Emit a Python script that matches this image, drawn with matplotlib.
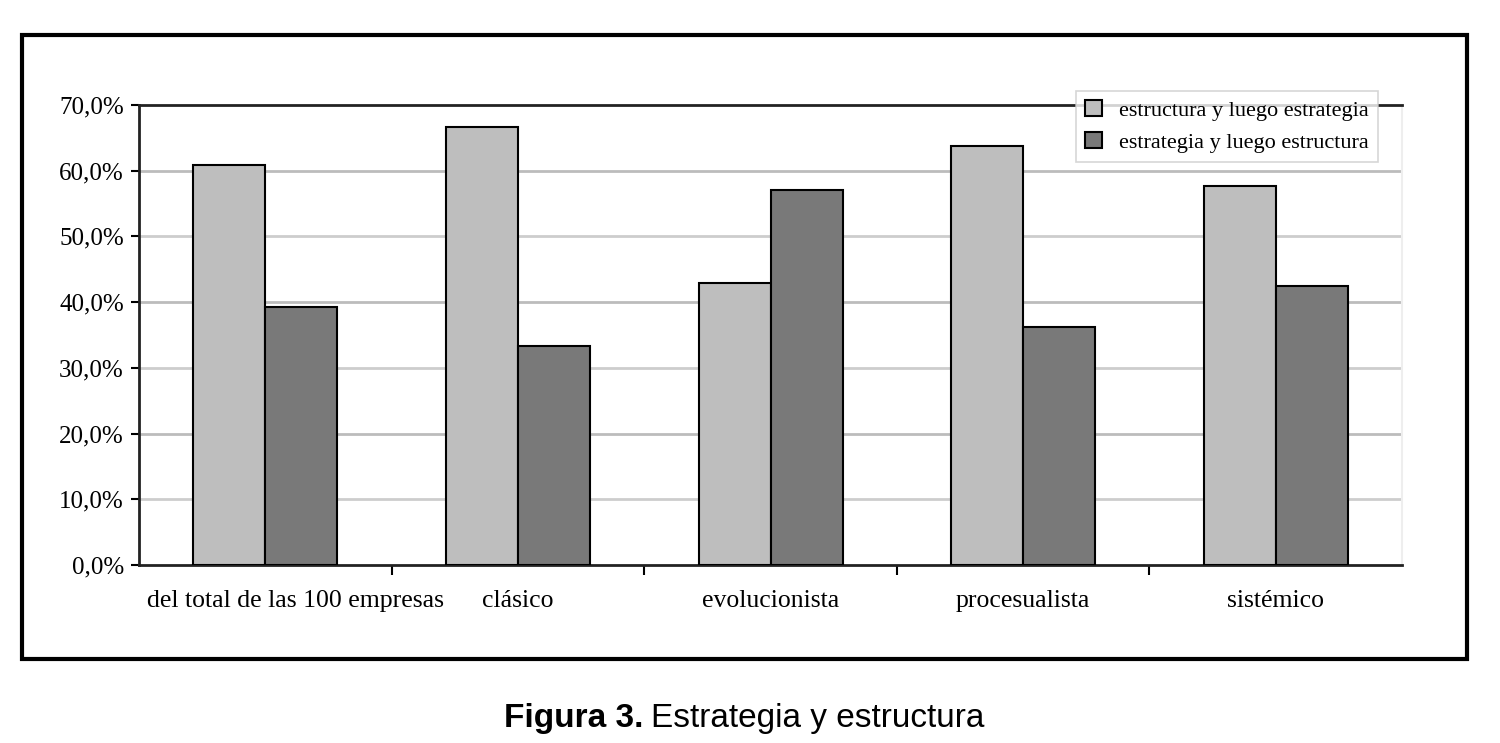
import matplotlib.pyplot as plt
import matplotlib.transforms as mtransforms
from matplotlib.patches import Rectangle
import numpy as np

# data
categorias = ['del total de las 100 empresas', 'clásico', 'evolucionista',
              'procesualista', 'sistémico']
estructura_luego_estrategia = [60.8, 66.7, 42.9, 63.8, 57.6]
estrategia_luego_estructura = [39.2, 33.3, 57.1, 36.2, 42.4]
series_labels = ['estructura y luego estrategia', 'estrategia y luego estructura']
yticks = [0, 10, 20, 30, 40, 50, 60, 70]

plt.rcParams['font.family'] = ['Liberation Serif', 'DejaVu Serif']

fig = plt.figure(figsize=(15, 7.43), dpi=100)
ax = fig.add_axes([0.0927, 0.2396, 0.842, 0.6191])

x = np.arange(len(categorias))
w = 0.285
ax.bar(x - w / 2, estructura_luego_estrategia, w, color='#bebebe',
       edgecolor='black', linewidth=1.5, label=series_labels[0], zorder=3)
ax.bar(x + w / 2, estrategia_luego_estructura, w, color='#797979',
       edgecolor='black', linewidth=1.5, label=series_labels[1], zorder=3)

ax.set_xlim(-0.5, len(categorias) - 0.5)
ax.set_ylim(0, 70)
ax.set_yticks(yticks)
ax.set_yticklabels([f'{v:.1f}%'.replace('.', ',') for v in yticks], fontsize=18)
ax.set_xticks(x)
ax.set_xticklabels(categorias, fontsize=18.5)
ax.set_xticks(np.arange(0.5, len(categorias) - 1, 1), minor=True)
ax.tick_params(axis='x', which='major', length=0, pad=18)
ax.tick_params(axis='x', which='minor', length=7, width=1.5, direction='out')
ax.tick_params(axis='y', length=6, width=1.5, pad=5)

# first label sits a bit to the right in the original
first = ax.get_xticklabels()[0]
first.set_transform(first.get_transform() +
                    mtransforms.ScaledTranslation(0.3, 0, fig.dpi_scale_trans))

for i, v in enumerate(yticks[1:-1]):
    ax.axhline(v, color='#cdcdcd' if i % 2 == 0 else '#bcbcbc',
               linewidth=2, zorder=1)

for side in ['left', 'bottom', 'top']:
    ax.spines[side].set_linewidth(2)
    ax.spines[side].set_color('#222222')
ax.spines['right'].set_color('#eeeeee')
ax.spines['right'].set_linewidth(1.5)

leg = ax.legend(loc='upper right', bbox_to_anchor=(0.981, 1.0304), fontsize=16,
                frameon=True, fancybox=False, edgecolor='#cccccc',
                handlelength=0.75, handleheight=0.75, handletextpad=0.8,
                borderpad=0.4, labelspacing=0.5, borderaxespad=0)
leg.get_frame().set_linewidth(1.2)
leg.set_zorder(5)

# outer frame around the chart
fig.patches.append(Rectangle((0.0147, 0.113), 0.9633, 0.8399, transform=fig.transFigure,
                             fill=False, edgecolor='black', linewidth=3))

# caption
fig.text(0.4287, 16 / 743, 'Figura 3.', ha='right', va='baseline',
         fontsize=24, fontweight='bold', family='Liberation Sans')
fig.text(0.434, 16 / 743, 'Estrategia y estructura', ha='left', va='baseline',
         fontsize=24, family='Liberation Sans')

fig.savefig('out.png', dpi=100)
